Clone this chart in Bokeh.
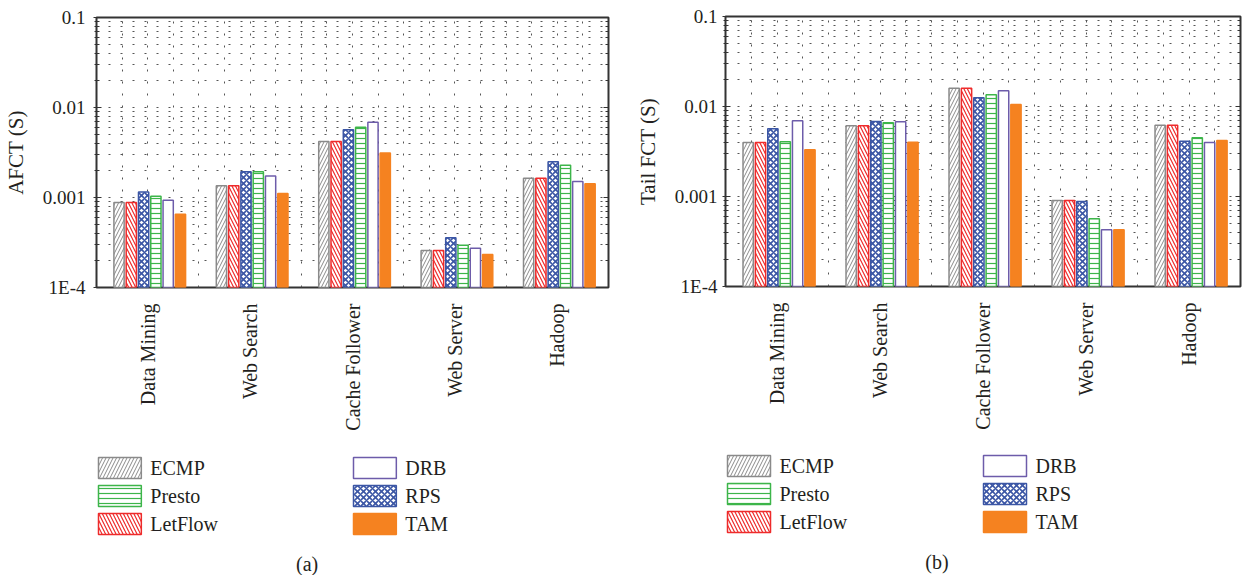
from math import pi

from bokeh.core.properties import value
from bokeh.embed import file_html
from bokeh.layouts import column, row
from bokeh.models import (ColumnDataSource, CustomJSTickFormatter, FixedTicker,
                          LogAxis, Range1d)
from bokeh.plotting import figure
from bokeh.resources import INLINE

# ---------------------------------------------------------------- data
CATEGORIES = ["Data Mining", "Web Search", "Cache Follower", "Web Server", "Hadoop"]

# bar order inside each workload group
SCHEMES = ["ECMP", "LetFlow", "RPS", "Presto", "DRB", "TAM"]

# (a) average flow completion time, seconds
AFCT_ECMP = [8.8e-4, 1.35e-3, 4.2e-3, 2.58e-4, 1.64e-3]
AFCT_LETFLOW = [8.8e-4, 1.35e-3, 4.2e-3, 2.58e-4, 1.64e-3]
AFCT_RPS = [1.15e-3, 1.93e-3, 5.65e-3, 3.56e-4, 2.49e-3]
AFCT_PRESTO = [1.03e-3, 1.93e-3, 6.04e-3, 2.95e-4, 2.28e-3]
AFCT_DRB = [9.3e-4, 1.73e-3, 6.87e-3, 2.73e-4, 1.51e-3]
AFCT_TAM = [6.5e-4, 1.11e-3, 3.13e-3, 2.33e-4, 1.42e-3]

# (b) tail flow completion time, seconds
TAIL_ECMP = [3.98e-3, 6.1e-3, 1.6e-2, 9.0e-4, 6.2e-3]
TAIL_LETFLOW = [3.98e-3, 6.1e-3, 1.6e-2, 9.0e-4, 6.2e-3]
TAIL_RPS = [5.65e-3, 6.8e-3, 1.25e-2, 8.8e-4, 4.12e-3]
TAIL_PRESTO = [4.05e-3, 6.58e-3, 1.35e-2, 5.65e-4, 4.49e-3]
TAIL_DRB = [6.93e-3, 6.76e-3, 1.5e-2, 4.27e-4, 3.98e-3]
TAIL_TAM = [3.3e-3, 4.01e-3, 1.05e-2, 4.27e-4, 4.19e-3]

Y_MIN, Y_MAX = 1e-4, 0.1
Y_TICKS = [1e-4, 1e-3, 1e-2, 1e-1]
Y_MINOR = [k * 10.0 ** e for e in (-4, -3, -2) for k in range(2, 10)]

# legend layout: two columns of three entries
LEGEND_COLUMNS = [["ECMP", "Presto", "LetFlow"], ["DRB", "RPS", "TAM"]]

# ---------------------------------------------------------------- styles
FONT = "Liberation Serif"
TEXT_COLOR = "#231f20"
FRAME_COLOR = "#333333"
GRID_COLOR = "#555555"

STYLE = {
    "ECMP": dict(line_color="#8a8a8a", fill_color="white", hatch_pattern="/",
                 hatch_color="#8a8a8a", hatch_scale=7, hatch_weight=1.0),
    "LetFlow": dict(line_color="#ee2b2b", fill_color="white", hatch_pattern="\\",
                    hatch_color="#ee2b2b", hatch_scale=7, hatch_weight=1.2),
    "RPS": dict(line_color="#3b56a5", fill_color="white", hatch_pattern="x",
                hatch_color="#3b56a5", hatch_scale=6, hatch_weight=1.6),
    "Presto": dict(line_color="#3db54a", fill_color="white", hatch_pattern="-",
                   hatch_color="#3db54a", hatch_scale=5, hatch_weight=1.2),
    "DRB": dict(line_color="#6d5caa", fill_color="white"),
    "TAM": dict(line_color="#f58220", fill_color="#f58220"),
}

BAR_PITCH = 0.12
BAR_WIDTH = 0.10
GROUP_SHIFT = 0.02
PANEL_W, PANEL_H, LEGEND_H = 623, 440, 135


def y_formatter():
    # 0.1, 0.01, 0.001, then 1E-4
    return CustomJSTickFormatter(code="""
        const e = Math.round(Math.log10(tick));
        return e >= -3 ? tick.toFixed(-e) : "1E" + e;
    """)


def make_panel(series, ylabel, border_left, border_right, border_top, border_bottom,
               label_standoff):
    p = figure(width=PANEL_W, height=PANEL_H, x_range=Range1d(0, len(CATEGORIES)),
               y_range=Range1d(Y_MIN, Y_MAX), y_axis_type="log",
               output_backend="svg", toolbar_location=None,
               min_border_left=border_left, min_border_right=border_right,
               min_border_top=border_top, min_border_bottom=border_bottom)
    p.outline_line_color = FRAME_COLOR
    p.outline_line_width = 2

    ticker = FixedTicker(ticks=Y_TICKS, minor_ticks=Y_MINOR)

    # left value axis
    ya = p.yaxis[0]
    ya.ticker = ticker
    ya.formatter = y_formatter()
    ya.axis_label = ylabel
    ya.axis_label_text_font = FONT
    ya.axis_label_text_font_size = "21px"
    ya.axis_label_text_font_style = "normal"
    ya.axis_label_text_color = TEXT_COLOR
    ya.axis_label_standoff = 12
    ya.major_label_text_font = FONT
    ya.major_label_text_font_size = "19px"
    ya.major_label_text_color = TEXT_COLOR
    ya.major_label_standoff = label_standoff
    ya.axis_line_color = None
    ya.major_tick_in = 5
    ya.major_tick_out = 3
    ya.minor_tick_in = 3
    ya.minor_tick_out = 2
    ya.major_tick_line_color = FRAME_COLOR
    ya.minor_tick_line_color = FRAME_COLOR

    # mirrored ticks on the right edge, no labels
    ra = LogAxis(ticker=ticker, formatter=CustomJSTickFormatter(code="return '';"),
                 axis_line_color=None, major_tick_in=5, major_tick_out=0,
                 minor_tick_in=3, minor_tick_out=0, major_label_standoff=0,
                 major_label_text_font_size="0px",
                 major_tick_line_color=FRAME_COLOR, minor_tick_line_color=FRAME_COLOR)
    p.add_layout(ra, "right")

    # workload axis, labels rotated
    xa = p.xaxis[0]
    xa.ticker = FixedTicker(ticks=[i + 0.5 for i in range(len(CATEGORIES))])
    xa.formatter = CustomJSTickFormatter(args=dict(names=CATEGORIES),
                                         code="return names[Math.floor(tick)];")
    xa.major_label_orientation = pi / 2
    xa.major_label_text_font = FONT
    xa.major_label_text_font_size = "20px"
    xa.major_label_text_color = TEXT_COLOR
    xa.major_label_standoff = 10
    xa.axis_line_color = None
    xa.major_tick_line_color = None
    xa.minor_tick_line_color = None

    # dotted grids: every decade and sub-decade, every quarter group
    p.ygrid.ticker = ticker
    g = p.ygrid[0]
    g.grid_line_color = GRID_COLOR
    g.grid_line_dash = "2 10"
    g.grid_line_width = 1
    g.minor_grid_line_color = GRID_COLOR
    g.minor_grid_line_dash = "2 10"
    g.minor_grid_line_width = 1
    p.xgrid.ticker = FixedTicker(ticks=[k * 0.25 for k in range(1, 4 * len(CATEGORIES))])
    p.xgrid.grid_line_color = GRID_COLOR
    p.xgrid.grid_line_dash = "2 10"
    p.xgrid.grid_line_width = 1

    # grouped bars
    for j, name in enumerate(SCHEMES):
        off = (j - (len(SCHEMES) - 1) / 2) * BAR_PITCH + GROUP_SHIFT
        src = ColumnDataSource(dict(
            x=[i + 0.5 + off for i in range(len(CATEGORIES))],
            top=series[name],
        ))
        p.vbar(x="x", top="top", bottom=Y_MIN, width=BAR_WIDTH, source=src,
               line_width=1.5, **STYLE[name])
    return p


def make_legend(x0, border_left, border_right, patch_left, patch_top, caption, caption_xy):
    # the column layout lines this canvas up with the panel frame above it,
    # so its x range spans that frame in page pixels; y grows downward
    top = PANEL_H
    lg = figure(width=PANEL_W, height=LEGEND_H,
                x_range=Range1d(x0 + border_left, x0 + PANEL_W - border_right),
                y_range=Range1d(top + LEGEND_H, top), output_backend="svg",
                toolbar_location=None, x_axis_location=None, y_axis_location=None,
                min_border_left=border_left, min_border_right=border_right,
                min_border_top=0, min_border_bottom=0, outline_line_color=None)
    lg.grid.visible = False
    pw, ph, col_gap, row_gap = 43, 21, 256, 28
    for c, names in enumerate(LEGEND_COLUMNS):
        for r, name in enumerate(names):
            cx = patch_left + c * col_gap + pw / 2
            cy = patch_top + r * row_gap + ph / 2
            lg.rect(x=[cx], y=[cy], width=pw, height=ph, line_width=1.5, **STYLE[name])
            lg.text(x=[cx + pw / 2 + 9], y=[cy], text=[name],
                    text_font=value(FONT), text_font_size=value("20px"),
                    text_color=TEXT_COLOR, text_baseline="middle", text_align="left")
    lg.text(x=[caption_xy[0]], y=[caption_xy[1]], text=[caption],
            text_font=value(FONT), text_font_size=value("20px"),
            text_color=TEXT_COLOR, text_baseline="middle", text_align="center")
    return lg


afct = dict(ECMP=AFCT_ECMP, LetFlow=AFCT_LETFLOW, RPS=AFCT_RPS,
            Presto=AFCT_PRESTO, DRB=AFCT_DRB, TAM=AFCT_TAM)
tail = dict(ECMP=TAIL_ECMP, LetFlow=TAIL_LETFLOW, RPS=TAIL_RPS,
            Presto=TAIL_PRESTO, DRB=TAIL_DRB, TAM=TAIL_TAM)

p_a = make_panel(afct, "AFCT (S)", 94, 15, 17, 153, 8)
p_b = make_panel(tail, "Tail FCT (S)", 102, 6, 16, 154, 5)
leg_a = make_legend(0, 94, 15, 96, 457, "(a)", (305.5, 563))
leg_b = make_legend(PANEL_W, 102, 6, 727, 455, "(b)", (936.5, 561))

layout = row(column(p_a, leg_a), column(p_b, leg_b))

open("out.html", "w").write(file_html(layout, INLINE))
